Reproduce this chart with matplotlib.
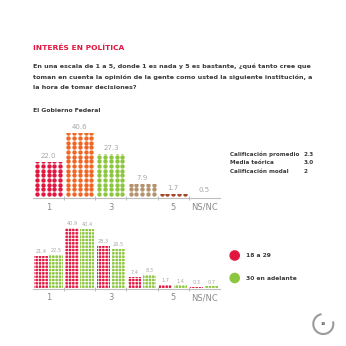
import numpy as np
import matplotlib
matplotlib.use("Agg")
import matplotlib.pyplot as plt
from matplotlib.patches import Rectangle, Arc, Circle

# ---------------- data ----------------
categories = ['1', '2', '3', '4', '5', 'NS/NC']
tick_labels = ['1', '', '3', '', '5', 'NS/NC']
overall = [22.0, 40.6, 27.3, 7.9, 1.7, 0.5]
young = [21.4, 40.9, 28.3, 7.4, 1.7, 0.3]
older = [22.5, 40.4, 26.5, 8.3, 1.4, 0.7]
stats_labels = ['Calificación promedio', 'Media teórica', 'Calificación modal']
stats_values = ['2.3', '3.0', '2']
group_labels = ['18 a 29', '30 en adelante']

title = 'INTERÉS EN POLÍTICA'
question_lines = [
    'En una escala de 1 a 5, donde 1 es nada y 5 es bastante, ¿qué tanto cree que',
    'toman en cuenta la opinión de la gente como usted la siguiente institución, a',
    'la hora de tomar decisiones?',
]
subtitle = 'El Gobierno Federal'
page_number = '18'

# ---------------- style ----------------
cat_colors = ['#e2173f', '#f26624', '#8cc63f', '#b5916e', '#a3472b', '#bbbbbb']
group_colors = ['#e2173f', '#8cc63f']
red_title = '#e2173f'
dark = '#3a3a3a'
gray_lbl = '#8a8a8a'
gray_val = '#a8a8a8'
axis_gray = '#bdbdbd'

plt.rcParams['font.family'] = ['DejaVu Sans']
plt.rcParams['hatch.linewidth'] = 0.6

W = H = 346
fig = plt.figure(figsize=(W / 100, H / 100), dpi=100)
fig.patch.set_facecolor('white')


def add_axes_px(l, t, r, b):
    return fig.add_axes([l / W, 1 - b / H, (r - l) / W, (b - t) / H])


def fx(x):
    return x / W


def fy(y):
    return 1 - y / H


# ---------------- texts ----------------
fig.text(fx(33), fy(48), title, color=red_title, fontsize=5.4,
         fontweight='bold', va='center', ha='left')
for k, line in enumerate(question_lines):
    fig.text(fx(33), fy(66.5 + k * 10.5), line, color=dark, fontsize=4.55,
             fontweight='bold', va='center', ha='left')
fig.text(fx(33), fy(110), subtitle, color=dark, fontsize=4.4,
         fontweight='bold', va='center', ha='left')

for k, (lab, val) in enumerate(zip(stats_labels, stats_values)):
    yy = 154 + k * 8.7
    fig.text(fx(230), fy(yy), lab, color=dark, fontsize=4.1,
             fontweight='bold', va='center', ha='left')
    fig.text(fx(304), fy(yy), val, color=dark, fontsize=4.1,
             fontweight='bold', va='center', ha='left')


def style_axis(ax, ymin, ymax, spine_y):
    ax.set_xlim(-0.5, len(categories) - 0.5)
    ax.set_ylim(ymin, ymax)
    for s in ['top', 'right', 'left']:
        ax.spines[s].set_visible(False)
    ax.spines['bottom'].set_position(('data', spine_y))
    ax.spines['bottom'].set_color(axis_gray)
    ax.spines['bottom'].set_linewidth(0.8)
    ax.set_yticks([])
    ax.set_xticks(range(len(categories)))
    ax.set_xticklabels(tick_labels)
    ax.tick_params(axis='x', which='major', length=0, pad=3.2,
                   labelsize=6.0, labelcolor=gray_lbl)
    ax.set_xticks(np.arange(0.5, len(categories) - 1, 1.0), minor=True)
    ax.tick_params(axis='x', which='minor', length=3, width=0.7,
                   direction='inout', color=axis_gray)
    ax.patch.set_alpha(0)


# ---------------- top unit chart ----------------
ax1 = add_axes_px(33, 120, 220, 210)
s1 = 1.556
zero1 = 196.5
ymin1 = -(210 - zero1) / s1
ymax1 = ymin1 + 90 / s1
style_axis(ax1, ymin1, ymax1, -1.2)

pitch = 3.0
col_offsets = np.linspace(-0.37, 0.37, 5)
for i, v in enumerate(overall):
    if v >= 1:
        nrows = int(np.ceil(v / pitch))
        xs, ys = np.meshgrid(i + col_offsets, (np.arange(nrows) + 0.5) * pitch)
        sc = ax1.scatter(xs.ravel(), ys.ravel(), s=10, color=cat_colors[i],
                         linewidths=0, zorder=3)
        clip = Rectangle((i - 0.5, 0), 1, v, transform=ax1.transData)
        sc.set_clip_path(clip)
    ax1.annotate(f'{v:.1f}', (i, v), xytext=(0, 2.2), textcoords='offset points',
                 ha='center', va='bottom', color=gray_val, fontsize=5.0,
                 annotation_clip=False)

# ---------------- bottom grouped chart ----------------
ax2 = add_axes_px(33, 215, 220, 300)
s2 = 1.46
zero2 = 287.5
ymin2 = -(300 - zero2) / s2
ymax2 = ymin2 + 85 / s2
style_axis(ax2, ymin2, ymax2, -0.8)

x = np.arange(len(categories))
offsets = [-0.245, 0.235]
for g, (vals, col) in enumerate(zip([young, older], group_colors)):
    bars = ax2.bar(x + offsets[g], vals, width=0.43, color=col,
                   edgecolor='white', linewidth=0, hatch='+++++', zorder=3)
    for xi, v in zip(x + offsets[g], vals):
        ax2.annotate(f'{v:.1f}', (xi, v), xytext=(0, 1.4),
                     textcoords='offset points', ha='center', va='bottom',
                     color=gray_val, fontsize=3.6, annotation_clip=False)

# legend
for k, (lab, col) in enumerate(zip(group_labels, group_colors)):
    yy = 255.5 + k * 22.5
    fig.add_artist(Circle((fx(234.7), fy(yy)), 4.6 / W, color=col,
                          transform=fig.transFigure))
    fig.text(fx(246.5), fy(yy), lab, color=dark, fontsize=4.3,
             fontweight='bold', va='center', ha='left')

# page number mark
fig.add_artist(Arc((fx(323.3), fy(324)), 20 / W, 20 / H, theta1=100, theta2=375,
                   color='#9a9a9a', lw=1.5, transform=fig.transFigure))
fig.text(fx(323.5), fy(324), page_number, color='#555555', fontsize=2.6,
         fontweight='bold', ha='center', va='center')

fig.savefig('out.png', dpi=100, facecolor='white')
